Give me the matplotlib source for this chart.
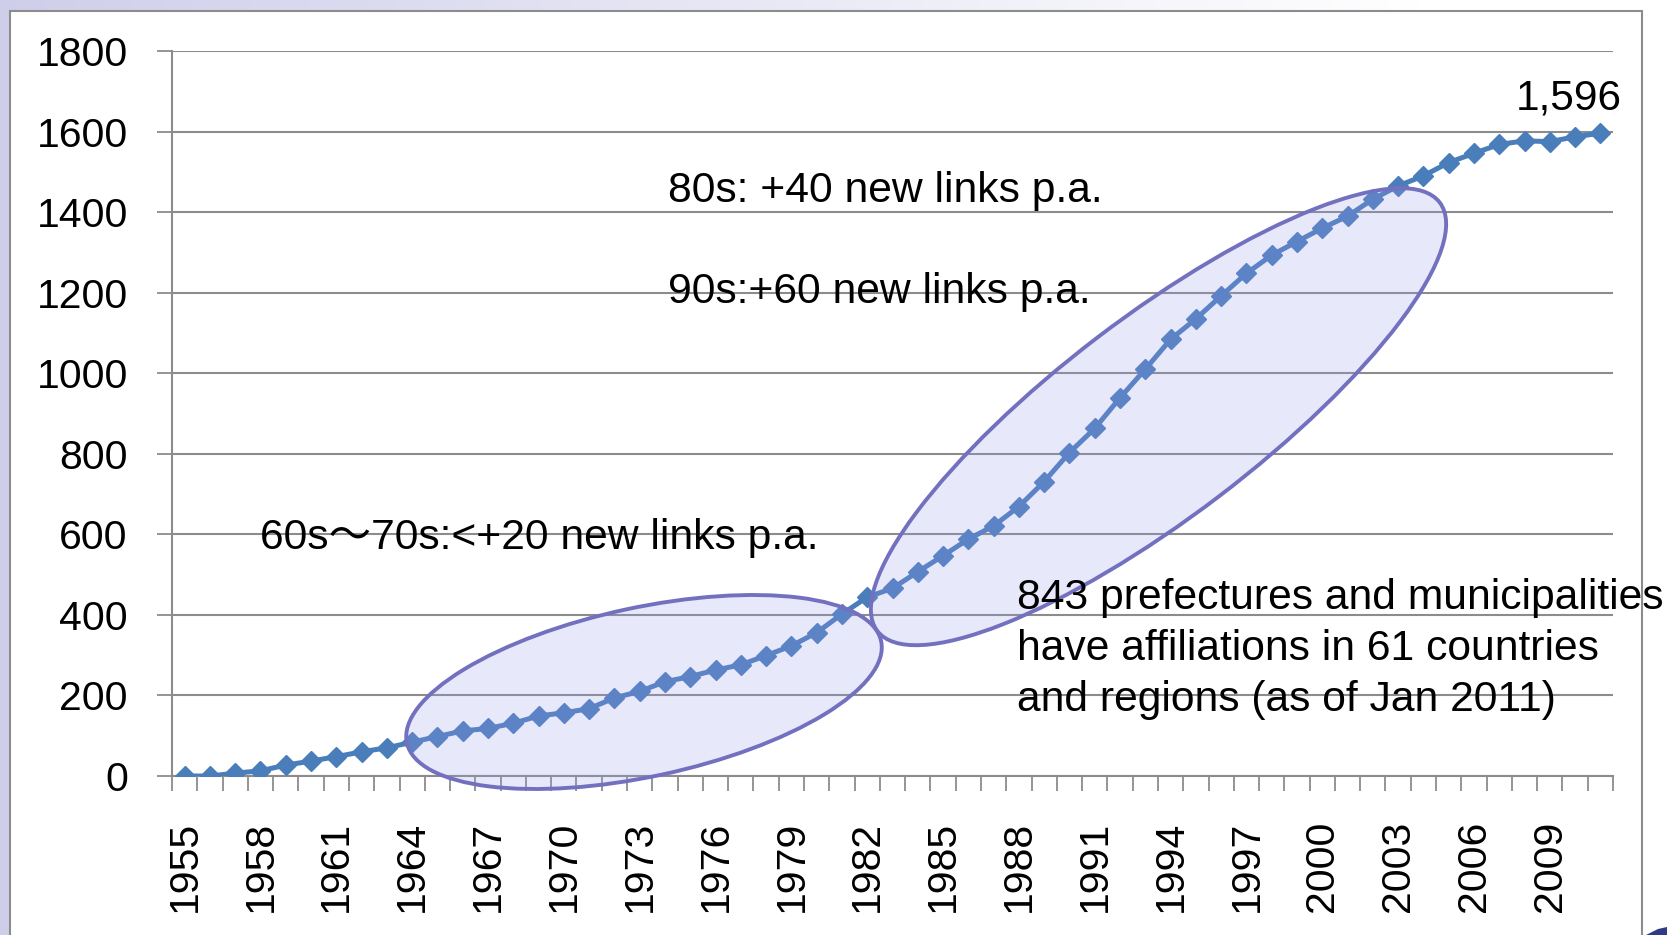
import numpy as np
import matplotlib.pyplot as plt
from matplotlib.patches import Ellipse, Rectangle, Polygon
from matplotlib.transforms import IdentityTransform

plt.rcParams['font.family'] = ['Liberation Sans', 'Noto Sans CJK JP', 'DejaVu Sans']

# sister-city links per year
years = list(range(1955, 2012))
links = [0, 0, 7, 13, 27, 37, 48, 60, 70, 84,
         98, 112, 118, 131, 149, 157, 167, 194, 210, 234,
         247, 263, 276, 299, 323, 356, 402, 444, 466, 507,
         547, 588, 621, 669, 731, 803, 863, 939, 1010, 1084,
         1135, 1192, 1248, 1293, 1327, 1360, 1390, 1432, 1465, 1490,
         1523, 1546, 1568, 1577, 1575, 1587, 1596]
yticks = [0, 200, 400, 600, 800, 1000, 1200, 1400, 1600, 1800]

W, H = 1667, 935
fig = plt.figure(figsize=(W / 100, H / 100), dpi=100)

# slide background: lavender fading to white
bg = fig.add_axes([0, 0, 1, 1], zorder=-10)
t = np.clip(np.linspace(0, 1, 400) / 0.85, 0, 1)
lav = np.array([0.81, 0.81, 0.92])
grad = lav[None, :] + (1 - lav[None, :]) * t[:, None]
bg.imshow(grad[None, :, :], aspect='auto', extent=[0, 1, 0, 1])
bg.set_axis_off()

# white chart frame
fig.add_artist(Rectangle((9.5, -20), 1642 - 9.5, H - 11 + 20, transform=IdentityTransform(),
                         facecolor='white', edgecolor='#8c8c8c', lw=1.5, zorder=-5))
fig.add_artist(Polygon([(1646, 0), (1658, 6), (1667, 8), (1667, 0)], closed=True,
                       transform=IdentityTransform(), facecolor='#2f3b82', edgecolor='none', zorder=-5))

ax = fig.add_axes([172 / W, 1 - 776 / H, (1613 - 172) / W, (776 - 51) / H])
ax.set_facecolor('none')
x = np.arange(len(years))
ax.plot(x, links, color='#4a7ebb', lw=3.6, marker='D', ms=10, mew=1, zorder=3)

ax.set_xlim(-0.5, len(years) - 0.5)
ax.set_ylim(0, 1800)
ax.set_yticks(yticks)
ax.yaxis.grid(True, color='#8c8c8c', lw=1.5)
ax.set_axisbelow(True)

lab_idx = x[::3]
ax.set_xticks(lab_idx)
ax.set_xticklabels([str(years[i]) for i in lab_idx], rotation=90, fontsize=29.5)
ax.set_xticks(np.arange(len(years) + 1) - 0.5, minor=True)
ax.tick_params(axis='x', which='major', length=0, pad=32)
ax.tick_params(axis='x', which='minor', length=10.8, width=1.3, color='#8c8c8c', direction='out')
ax.tick_params(axis='y', length=10.8, width=1.3, color='#8c8c8c', pad=21, labelsize=29.5)

for s in ['top', 'right']:
    ax.spines[s].set_visible(False)
for s in ['left', 'bottom']:
    ax.spines[s].set_color('#8c8c8c')
    ax.spines[s].set_linewidth(1.5)

ax.annotate('1,596', (x[-1], links[-1]), xytext=(-23, 25), textcoords='offset points',
            ha='center', va='center', fontsize=30.5)

# highlight ellipses (pixel space)
for cx, cy, w, h, ang in [(644, 692, 485, 169, 12.1), (1158.5, 416.7, 707, 200, 37.3)]:
    fig.add_artist(Ellipse((cx, H - cy), w, h, angle=ang, transform=IdentityTransform(),
                           facecolor=(0.6, 0.6, 0.93, 0.22), edgecolor='#7371bf', lw=2.8, zorder=2))

def ftext(px, py, s):
    fig.text(px / W, 1 - py / H, s, fontsize=30.7, ha='left', va='center', zorder=4)

ftext(668, 191, '80s: +40 new links p.a.')
ftext(668, 292, '90s:+60 new links p.a.')
ftext(260, 538, '60s\uff5e70s:<+20 new links p.a.')
ftext(1017, 598, '843 prefectures and municipalities')
ftext(1017, 649, 'have affiliations in 61 countries')
ftext(1017, 700, 'and regions (as of Jan 2011)')

fig.savefig('out.png', dpi=100)
